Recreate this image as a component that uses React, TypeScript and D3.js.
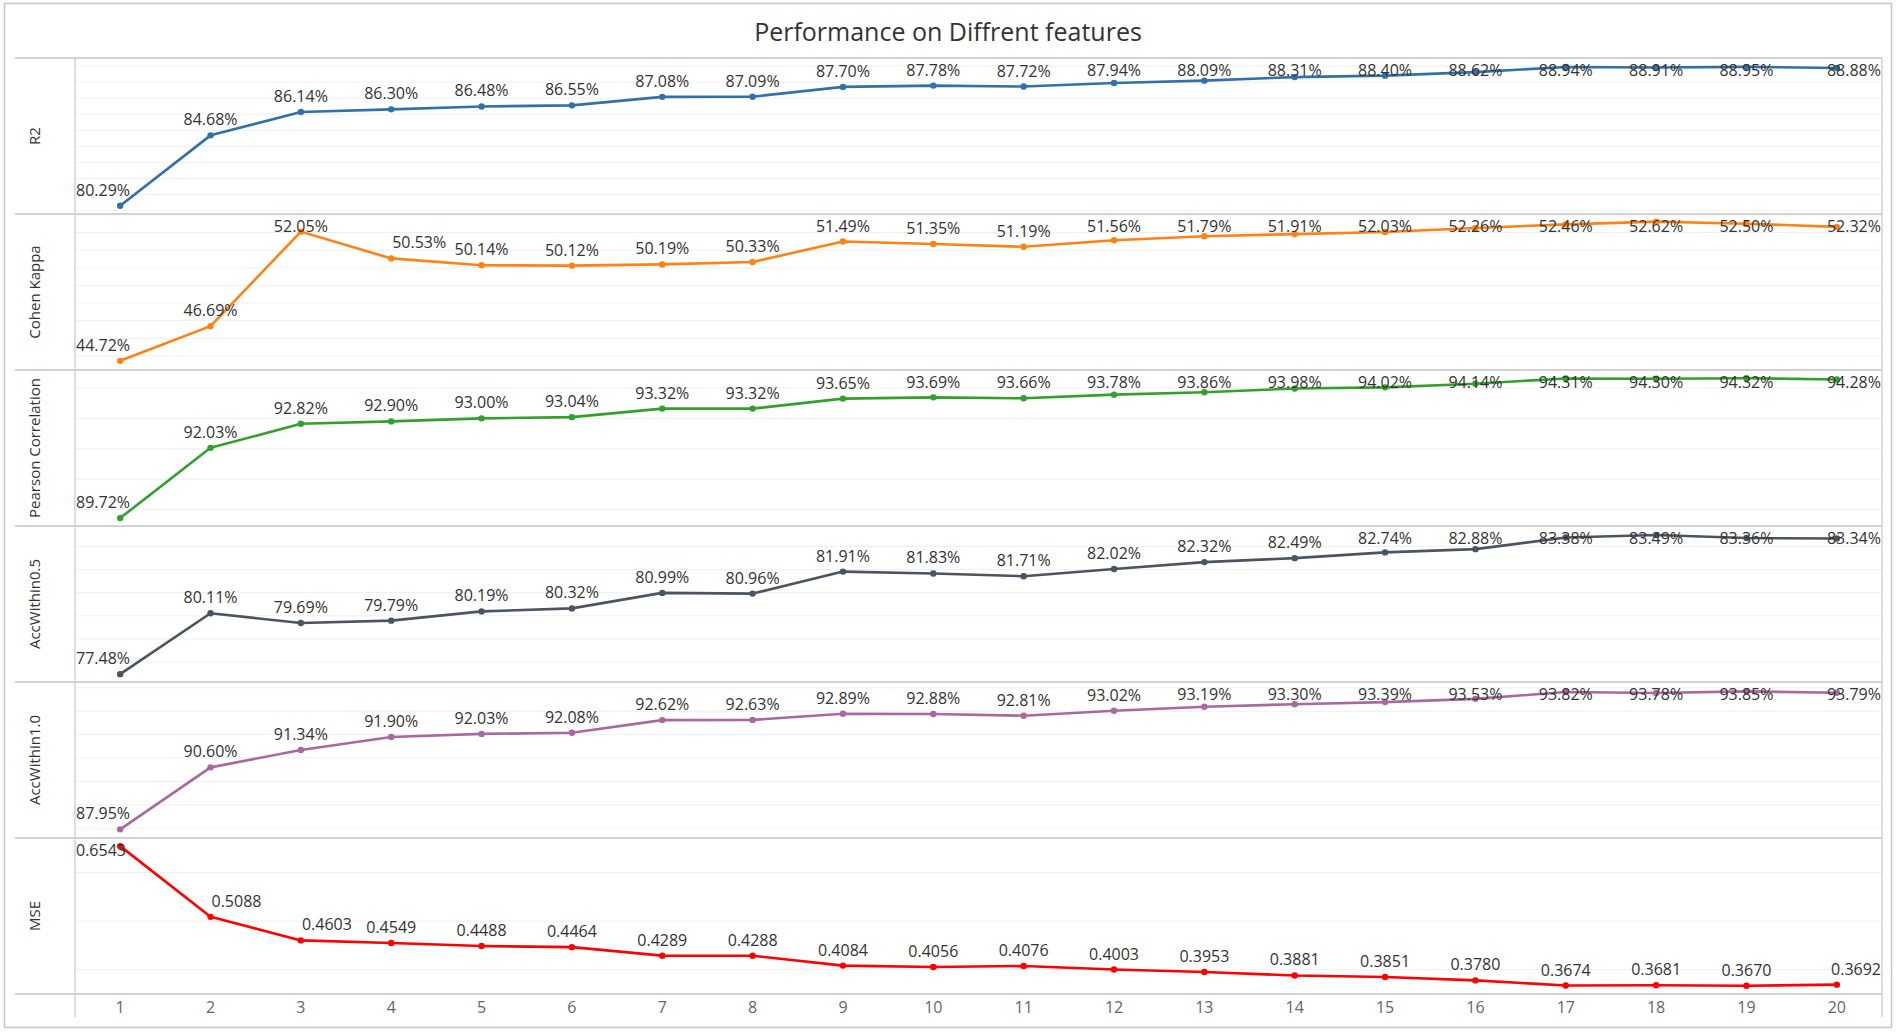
import React from 'react';
import * as d3 from 'd3';

// number of features on the x axis
const featureCounts = [1, 2, 3, 4, 5, 6, 7, 8, 9, 10, 11, 12, 13, 14, 15, 16, 17, 18, 19, 20];

const metricNames = ['R2', 'Cohen Kappa', 'Pearson Correlation', 'AccWithin0.5', 'AccWithin1.0', 'MSE'];

const r2 = [0.8029, 0.8468, 0.8614, 0.863, 0.8648, 0.8655, 0.8708, 0.8709, 0.877, 0.8778,
  0.8772, 0.8794, 0.8809, 0.8831, 0.884, 0.8862, 0.8894, 0.8891, 0.8895, 0.8888];
const cohenKappa = [0.4472, 0.4669, 0.5205, 0.5053, 0.5014, 0.5012, 0.5019, 0.5033, 0.5149, 0.5135,
  0.5119, 0.5156, 0.5179, 0.5191, 0.5203, 0.5226, 0.5246, 0.5262, 0.525, 0.5232];
const pearson = [0.8972, 0.9203, 0.9282, 0.929, 0.93, 0.9304, 0.9332, 0.9332, 0.9365, 0.9369,
  0.9366, 0.9378, 0.9386, 0.9398, 0.9402, 0.9414, 0.9431, 0.943, 0.9432, 0.9428];
const accWithin05 = [0.7748, 0.8011, 0.7969, 0.7979, 0.8019, 0.8032, 0.8099, 0.8096, 0.8191, 0.8183,
  0.8171, 0.8202, 0.8232, 0.8249, 0.8274, 0.8288, 0.8338, 0.8349, 0.8336, 0.8334];
const accWithin10 = [0.8795, 0.906, 0.9134, 0.919, 0.9203, 0.9208, 0.9262, 0.9263, 0.9289, 0.9288,
  0.9281, 0.9302, 0.9319, 0.933, 0.9339, 0.9353, 0.9382, 0.9378, 0.9385, 0.9379];
const mse = [0.6543, 0.5088, 0.4603, 0.4549, 0.4488, 0.4464, 0.4289, 0.4288, 0.4084, 0.4056,
  0.4076, 0.4003, 0.3953, 0.3881, 0.3851, 0.378, 0.3674, 0.3681, 0.367, 0.3692];

const seriesValues = [r2, cohenKappa, pearson, accWithin05, accWithin10, mse];

// hidden axis ranges of each pane, and gridline step
const axisRanges: [number, number][] = [
  [0.7978, 0.895],
  [0.442, 0.5305],
  [0.8946, 0.9459],
  [0.7714, 0.8388],
  [0.8758, 0.9425],
  [0.35, 0.671],
];
const gridSteps = [0.01, 0.01, 0.01, 0.01, 0.01, 0.1];
const lineColors = ['#3270a8', '#ff8214', '#33a02c', '#4a5560', '#a8699e', '#ff0000'];
const labelFormats = ['.2%', '.2%', '.2%', '.2%', '.2%', '.4f'];

const width = 1896;
const height = 1032;
const headerLeft = 15;
const paneLeft = 75;
const paneRight = 1882;
const panesTop = 58;
const panesBottom = 994;
const axisBottom = 1017;
const font = '"Open Sans", "DejaVu Sans", sans-serif';

const App = () => {
  const x = d3.scalePoint<number>().domain(featureCounts).range([paneLeft, paneRight]).padding(0.5);
  const rows = d3.scaleBand<string>().domain(metricNames).range([panesTop, panesBottom]);

  return (
    <div style={{ position: 'absolute', left: 0, top: 0 }}>
      <svg width={width} height={height} style={{ display: 'block', fontFamily: font }}>
        <rect x={0} y={0} width={width} height={height} fill="#fff" />
        <rect x={4.5} y={3.5} width={1887} height={1024} fill="#fff" stroke="#c6c6c6" strokeWidth={1.5} />
        <text x={width / 2} y={41} textAnchor="middle" fontSize={25} fill="#333">
          Performance on Diffrent features
        </text>

        {metricNames.map((name, i) => {
          const top = rows(name)!;
          const bottom = top + rows.bandwidth();
          const [lo, hi] = axisRanges[i];
          const y = d3.scaleLinear().domain([lo, hi]).range([bottom, top]);
          const step = gridSteps[i];
          const grid = d3.range(Math.ceil(lo / step - 1e-9), Math.floor(hi / step + 1e-9) + 1).map(k => k * step);
          const values = seriesValues[i];
          const line = d3.line<number>()
            .x((_, j) => x(featureCounts[j])!)
            .y(v => y(v));
          const fmt = d3.format(labelFormats[i]);
          const color = lineColors[i];
          return (
            <g key={name}>
              {grid.map(g => (
                <line key={g} x1={paneLeft} x2={paneRight} y1={y(g)} y2={y(g)} stroke="#efefef" strokeWidth={1} />
              ))}
              <text
                transform={`translate(${34},${(top + bottom) / 2}) rotate(-90)`}
                textAnchor="middle"
                dominantBaseline="central"
                fontSize={15}
                fill="#333"
              >
                {name}
              </text>
              <path d={line(values)!} fill="none" stroke={color} strokeWidth={2.6} strokeLinejoin="round" />
              {values.map((v, j) => (
                <circle key={j} cx={x(featureCounts[j])} cy={y(v)} r={3.2} fill={color} />
              ))}
              {values.map((v, j) => {
                const first = j === 0;
                const last = j === values.length - 1;
                // label pushed right when the incoming segment drops steeply into it
                const dropping = j > 0 && y(values[j - 1]) < y(v) - 15;
                const px = x(featureCounts[j])!;
                const lx = first ? paneLeft + 1 : last ? paneRight - 1 : dropping ? px + 1 : px;
                const anchor = first ? 'start' : last ? 'end' : dropping ? 'start' : 'middle';
                const ly = Math.max(y(v) - 10, top + 18);
                return (
                  <text key={`l${j}`} x={lx} y={ly} textAnchor={anchor} fontSize={16} fill="#333">
                    {fmt(v)}
                  </text>
                );
              })}
            </g>
          );
        })}

        {/* pane dividers */}
        {metricNames.map(name => (
          <line key={name} x1={headerLeft} x2={paneRight} y1={rows(name)} y2={rows(name)} stroke="#d2d2d2" strokeWidth={2} />
        ))}
        <line x1={headerLeft} x2={paneRight} y1={panesBottom} y2={panesBottom} stroke="#d2d2d2" strokeWidth={2} />
        <line x1={paneLeft} x2={paneLeft} y1={panesTop} y2={axisBottom} stroke="#d2d2d2" strokeWidth={1.5} />
        <line x1={paneRight} x2={paneRight} y1={panesTop} y2={axisBottom} stroke="#d2d2d2" strokeWidth={1.5} />

        {featureCounts.map(f => (
          <text key={f} x={x(f)} y={1013} textAnchor="middle" fontSize={16} fill="#666">
            {f}
          </text>
        ))}
      </svg>
    </div>
  );
};

export default App;
